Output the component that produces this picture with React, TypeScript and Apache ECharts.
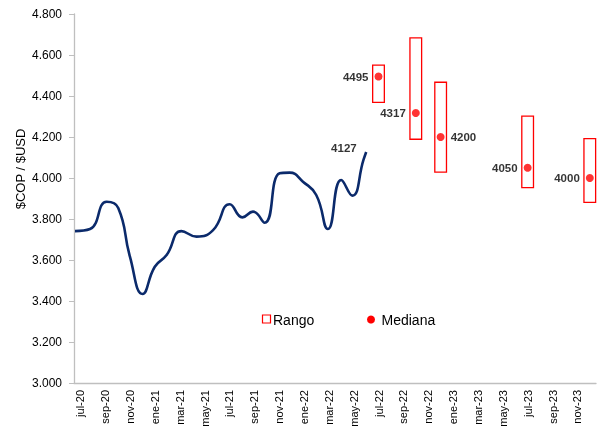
import React, { useEffect, useRef } from "react";
import * as echarts from "echarts";

// Month categories (x axis)
const categories = [
  "jul-20","ago-20","sep-20","oct-20","nov-20","dic-20",
  "ene-21","feb-21","mar-21","abr-21","may-21","jun-21",
  "jul-21","ago-21","sep-21","oct-21","nov-21","dic-21",
  "ene-22","feb-22","mar-22","abr-22","may-22","jun-22",
  "jul-22","ago-22","sep-22","oct-22","nov-22","dic-22",
  "ene-23","feb-23","mar-23","abr-23","may-23","jun-23",
  "jul-23","ago-23","sep-23","oct-23","nov-23","dic-23",
];

// Historical exchange rate: [months since start of jul-20, COP per USD]
const historyMonths = [0.08, 1.29, 2.63, 3.56, 4.5, 5.52, 6.5, 7.45, 8.65, 9.86, 11.19, 12.53, 13.55, 14.4, 15.34, 16.55, 17.35, 18.42, 19.49, 20.43, 21.5, 22.39, 23.29, 23.51];
const historyValues = [3741, 3751, 3884, 3854, 3616, 3434, 3567, 3624, 3741, 3714, 3746, 3872, 3808, 3836, 3782, 4023, 4026, 3982, 3917, 3751, 3990, 3914, 4088, 4127];

// Forecasts
const forecastCats = ["jul-22", "oct-22", "dic-22", "jul-23", "dic-23"];
const forecastMedian = [4495, 4317, 4200, 4050, 4000];
const forecastLow = [4369, 4189, 4029, 3953, 3881];
const forecastHigh = [4551, 4684, 4467, 4302, 4192];
const medianLabelSide = ["left", "left", "right", "left", "left"];

const yTicks = { min: 3000, max: 4800, interval: 200 };

export default function App() {
  const ref = useRef<HTMLDivElement>(null);
  useEffect(() => {
    if (!ref.current) return;
    const chart = echarts.init(ref.current, null, { renderer: "svg" });
    const font = "Arial, 'Liberation Sans', sans-serif";
    const lineData = historyMonths.map((m, i) => [m, historyValues[i]]);
    const lastIdx = historyMonths.length - 1;
    const boxData = forecastCats.map((c, i) => [categories.indexOf(c), forecastLow[i], forecastHigh[i]]);
    const medianData = forecastCats.map((c, i) => ({
      value: [categories.indexOf(c), forecastMedian[i]],
      label: { position: medianLabelSide[i] },
    }));
    chart.setOption({
      animation: false,
      textStyle: { fontFamily: font },
      grid: { left: 74, right: 1, top: 14, bottom: 51, containLabel: false },
      xAxis: [
        {
          type: "category",
          data: categories,
          boundaryGap: true,
          axisLine: { lineStyle: { color: "#BFBFBF", width: 1.3 } },
          axisTick: { show: false },
          axisLabel: { interval: 1, rotate: 90, fontSize: 11, color: "#000", margin: 7, fontFamily: font },
          splitLine: { show: false },
        },
        {
          type: "value",
          min: 0,
          max: categories.length,
          show: false,
        },
      ],
      yAxis: {
        type: "value",
        min: yTicks.min,
        max: yTicks.max,
        interval: yTicks.interval,
        axisLine: { show: true, lineStyle: { color: "#BFBFBF", width: 1.3 } },
        axisTick: { show: true, length: 5, lineStyle: { color: "#BFBFBF" } },
        axisLabel: {
          fontSize: 12,
          color: "#000",
          margin: 12,
          fontFamily: font,
          formatter: (v: number) => (v / 1000).toFixed(3),
        },
        splitLine: { show: false },
      },
      graphic: [
        {
          type: "text",
          x: 20,
          y: 169,
          rotation: Math.PI / 2,
          style: {
            text: "$COP / $USD",
            fontSize: 13,
            fontFamily: font,
            fill: "#000",
            textAlign: "center",
            textVerticalAlign: "middle",
          },
        },
        {
          type: "rect",
          shape: { x: 262.5, y: 315, width: 8, height: 8 },
          style: { fill: "#fff", stroke: "#ff0000", lineWidth: 1.2 },
        },
        {
          type: "text",
          x: 273,
          y: 320,
          style: { text: "Rango", fontSize: 14, fontFamily: font, fill: "#000", textVerticalAlign: "middle" },
        },
        {
          type: "circle",
          shape: { cx: 371, cy: 319.5, r: 4 },
          style: { fill: "#ff0000" },
        },
        {
          type: "text",
          x: 381.5,
          y: 320,
          style: { text: "Mediana", fontSize: 14, fontFamily: font, fill: "#000", textVerticalAlign: "middle" },
        },
      ],
      series: [
        {
          name: "COP/USD",
          type: "line",
          xAxisIndex: 1,
          data: lineData,
          smooth: 0.5,
          showSymbol: false,
          symbol: "none",
          lineStyle: { color: "#0B2A6B", width: 2.6 },
          z: 3,
        },
        {
          name: "Último",
          type: "scatter",
          xAxisIndex: 1,
          data: [lineData[lastIdx]],
          symbol: "circle",
          symbolSize: 1,
          itemStyle: { color: "rgba(0,0,0,0)" },
          label: {
            show: true,
            position: "left",
            distance: 9,
            offset: [0, -4],
            formatter: String(historyValues[lastIdx]),
            fontFamily: font,
            fontWeight: "bold",
            fontSize: 11.5,
            color: "#000",
          },
          z: 4,
        },
        {
          name: "Rango",
          type: "custom",
          xAxisIndex: 0,
          data: boxData,
          renderItem: (params: any, api: any) => {
            const x = api.value(0);
            const lo = api.value(1);
            const hi = api.value(2);
            const p1 = api.coord([x, hi]);
            const p2 = api.coord([x, lo]);
            const w = api.size([1, 0])[0] * 0.94;
            return {
              type: "rect",
              shape: { x: p1[0] - w / 2, y: p1[1], width: w, height: p2[1] - p1[1] },
              style: { fill: "none", stroke: "#ff0000", lineWidth: 1.3 },
            };
          },
          z: 2,
        },
        {
          name: "Mediana",
          type: "scatter",
          xAxisIndex: 0,
          data: medianData,
          symbol: "circle",
          symbolSize: 8,
          itemStyle: { color: "#ff0000" },
          label: {
            show: true,
            distance: 6,
            formatter: (p: any) => String(p.value[1]),
            fontFamily: font,
            fontWeight: "bold",
            fontSize: 11.5,
            color: "#000",
          },
          z: 4,
        },
      ],
    });
    return () => chart.dispose();
  }, []);
  return <div ref={ref} style={{ position: "fixed", left: 0, top: 0, width: 597, height: 434 }} />;
}
